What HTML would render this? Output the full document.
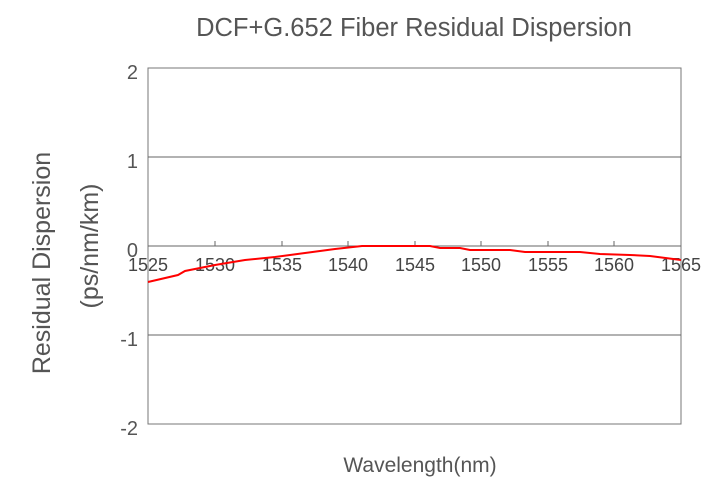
<!DOCTYPE html><html><head><style>body{margin:0;background:#fff}</style></head><body>
<svg width="728" height="486" xmlns="http://www.w3.org/2000/svg" font-family="Liberation Sans, sans-serif" fill="#404040">
<text x="414" y="36" font-size="25.5" text-anchor="middle" fill="#555">DCF+G.652 Fiber Residual Dispersion</text>
<rect x="148" y="68" width="533" height="356" fill="none" stroke="#777" stroke-width="1"/>
<g stroke="#666" stroke-width="1">
<line x1="148" y1="157" x2="681" y2="157"/><line x1="148" y1="335" x2="681" y2="335"/>
<line x1="148" y1="246" x2="681" y2="246"/>
<line x1="215" y1="241" x2="215" y2="246"/><line x1="282" y1="241" x2="282" y2="246"/><line x1="348" y1="241" x2="348" y2="246"/><line x1="415" y1="241" x2="415" y2="246"/><line x1="481" y1="241" x2="481" y2="246"/><line x1="548" y1="241" x2="548" y2="246"/><line x1="614" y1="241" x2="614" y2="246"/>
</g>
<g font-size="20" text-anchor="end" fill="#555">
<text x="138" y="79">2</text><text x="138" y="168">1</text><text x="138" y="257">0</text><text x="138" y="346">-1</text><text x="138" y="435">-2</text>
</g>
<g font-size="18" text-anchor="middle" fill="#444">
<text x="148" y="271">1525</text><text x="215" y="271">1530</text><text x="282" y="271">1535</text><text x="348" y="271">1540</text><text x="415" y="271">1545</text><text x="481" y="271">1550</text><text x="548" y="271">1555</text><text x="614" y="271">1560</text><text x="681" y="271">1565</text>
</g>
<polyline fill="none" stroke="#f00" stroke-width="2" points="148,282 178,275 185,271 215,265 245,260 275,257 305,253 335,249 362,246 430,246 440,248 460,248 470,250 510,250 525,252 580,252 600,254 630,255 650,256 681,260"/>
<text x="420" y="472" font-size="21" text-anchor="middle" fill="#555">Wavelength(nm)</text>
<text transform="translate(50,263) rotate(-90)" font-size="25" text-anchor="middle" fill="#555">Residual Dispersion</text>
<text transform="translate(98,246) rotate(-90)" font-size="25" text-anchor="middle" fill="#555">(ps/nm/km)</text>
</svg></body></html>
